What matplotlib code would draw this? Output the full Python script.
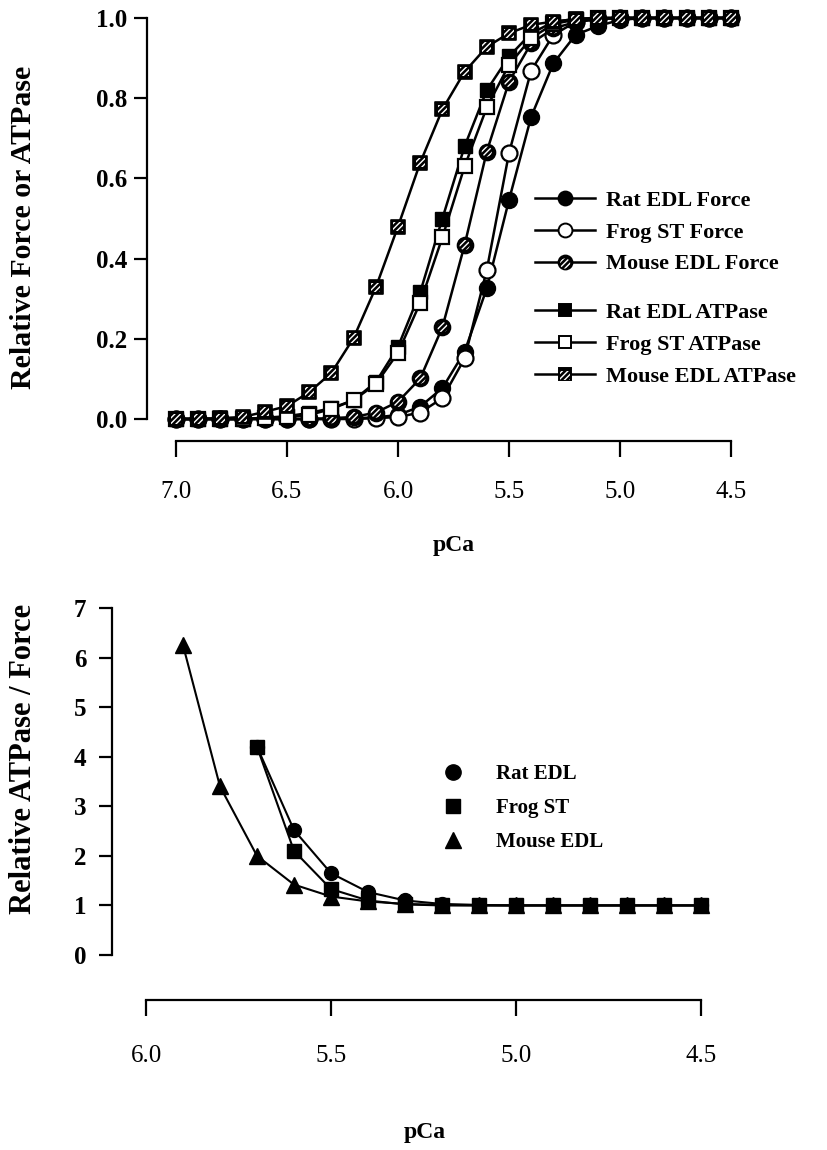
import matplotlib
matplotlib.use("Agg")
import matplotlib.pyplot as plt
from matplotlib.lines import Line2D
from matplotlib.legend_handler import HandlerTuple

plt.rcParams['font.family'] = ['Liberation Serif', 'DejaVu Serif']
plt.rcParams['hatch.linewidth'] = 1.0

# ---------------- data ----------------
pca_top = [7.0, 6.9, 6.8, 6.7, 6.6, 6.5, 6.4, 6.3, 6.2, 6.1, 6.0, 5.9, 5.8,
           5.7, 5.6, 5.5, 5.4, 5.3, 5.2, 5.1, 5.0, 4.9, 4.8, 4.7, 4.6, 4.5]
rat_force = [0, 0, 0, 0, 0, 0, 0, 0, 0.002, 0.004, 0.01, 0.031, 0.077,
             0.168, 0.326, 0.546, 0.754, 0.887, 0.958, 0.98, 0.995, 1, 1, 1, 1, 1]
frog_force = [0, 0, 0, 0, 0, 0, 0, 0, 0, 0.002, 0.005, 0.016, 0.052,
              0.151, 0.372, 0.663, 0.869, 0.958, 0.99, 0.998, 1, 1, 1, 1, 1, 1]
mouse_force = [0, 0, 0, 0, 0, 0, 0, 0.002, 0.005, 0.016, 0.043, 0.101, 0.229,
               0.434, 0.667, 0.841, 0.937, 0.974, 0.99, 0.997, 1, 1, 1, 1, 1, 1]
rat_atpase = [0, 0, 0, 0, 0.003, 0.007, 0.015, 0.027, 0.047, 0.092, 0.18, 0.316, 0.50,
              0.68, 0.82, 0.904, 0.962, 0.99, 0.998, 1, 1, 1, 1, 1, 1, 1]
frog_atpase = [0, 0, 0, 0, 0.002, 0.005, 0.01, 0.025, 0.047, 0.087, 0.165, 0.29, 0.453,
               0.63, 0.777, 0.883, 0.95, 0.985, 0.996, 1, 1, 1, 1, 1, 1, 1]
mouse_atpase = [0, 0, 0.002, 0.005, 0.018, 0.032, 0.067, 0.115, 0.202, 0.328, 0.48, 0.639, 0.772,
                0.866, 0.928, 0.962, 0.983, 0.991, 0.997, 1, 1, 1, 1, 1, 1, 1]

pca_mouse_ratio = [5.9, 5.8, 5.7, 5.6, 5.5, 5.4, 5.3, 5.2, 5.1, 5.0, 4.9, 4.8, 4.7, 4.6, 4.5]
mouse_ratio = [6.25, 3.4, 2.0, 1.42, 1.18, 1.08, 1.03, 1.01, 1, 1, 1, 1, 1, 1, 1]
pca_ratio = [5.7, 5.6, 5.5, 5.4, 5.3, 5.2, 5.1, 5.0, 4.9, 4.8, 4.7, 4.6, 4.5]
rat_ratio = [4.2, 2.52, 1.65, 1.27, 1.1, 1.03, 1.01, 1, 1, 1, 1, 1, 1]
frog_ratio = [4.2, 2.1, 1.33, 1.1, 1.02, 1.0, 1, 1, 1, 1, 1, 1, 1]

top_xticks = [7.0, 6.5, 6.0, 5.5, 5.0, 4.5]
top_yticks = [0.0, 0.2, 0.4, 0.6, 0.8, 1.0]
bot_xticks = [6.0, 5.5, 5.0, 4.5]
bot_yticks = [0, 1, 2, 3, 4, 5, 6, 7]

# ---------------- figure ----------------
fig = plt.figure(figsize=(8.28, 11.5), dpi=100)
W, H = 828.0, 1150.0
PT = 0.72  # points per pixel at 100 dpi

ax1 = fig.add_axes([176 / W, 1 - 419 / H, 555 / W, 401 / H])
ax2 = fig.add_axes([146 / W, 1 - 955 / H, 555 / W, 347 / H])

LW = 1.8
MS = 11.5


def style_axes(ax, left_out, bottom_out, xb, yb, xpad, ypad):
    for s in ['top', 'right']:
        ax.spines[s].set_visible(False)
    ax.spines['left'].set_position(('outward', left_out * PT))
    ax.spines['bottom'].set_position(('outward', bottom_out * PT))
    ax.spines['left'].set_linewidth(1.6)
    ax.spines['bottom'].set_linewidth(1.6)
    ax.spines['bottom'].set_bounds(*xb)
    ax.spines['left'].set_bounds(*yb)
    ax.tick_params(axis='both', direction='out', width=1.6)
    ax.tick_params(axis='x', length=16 * PT, pad=xpad)
    ax.tick_params(axis='y', length=13 * PT, pad=ypad)
    ax.patch.set_visible(False)


def hatched(ax, x, y, marker, size, z):
    a = ax.scatter(x, y, s=size ** 2, marker=marker, facecolor='black',
                   edgecolor='black', linewidth=1.2, zorder=z, clip_on=False)
    b = ax.scatter(x, y, s=(size * 0.64) ** 2, marker=marker, facecolor='none',
                   edgecolor='white', hatch='//////', linewidth=0, zorder=z + 0.01,
                   clip_on=False)
    return a, b


# ----- top panel -----
ax1.plot(pca_top, rat_force, '-', color='black', lw=LW, zorder=2, clip_on=False)
ax1.plot(pca_top, rat_force, 'o', color='black', ms=MS, mfc='black',
         mec='black', zorder=2.5, clip_on=False)

ax1.plot(pca_top, frog_force, '-', color='black', lw=LW, zorder=3, clip_on=False)
ax1.plot(pca_top, frog_force, 'o', color='black', ms=MS, mfc='white',
         mec='black', mew=1.6, zorder=3.5, clip_on=False)

ax1.plot(pca_top, mouse_force, '-', color='black', lw=LW, zorder=4, clip_on=False)
mf_a, mf_b = hatched(ax1, pca_top, mouse_force, 'o', MS, 4.5)

ax1.plot(pca_top, rat_atpase, '-', color='black', lw=LW, zorder=5, clip_on=False)
ax1.plot(pca_top, rat_atpase, 's', color='black', ms=MS - 1, mfc='black',
         mec='black', zorder=5.5, clip_on=False)

ax1.plot(pca_top, frog_atpase, '-', color='black', lw=LW, zorder=6, clip_on=False)
ax1.plot(pca_top, frog_atpase, 's', color='black', ms=MS - 1, mfc='white',
         mec='black', mew=1.6, zorder=6.5, clip_on=False)

ax1.plot(pca_top, mouse_atpase, '-', color='black', lw=LW, zorder=7, clip_on=False)
ma_a, ma_b = hatched(ax1, pca_top, mouse_atpase, 's', MS - 1, 7.5)

ax1.set_xlim(7.0, 4.5)
ax1.set_ylim(0, 1)
style_axes(ax1, 29, 22, (7.0, 4.5), (0, 1), xpad=17, ypad=5)
ax1.set_xticks(top_xticks)
ax1.set_xticklabels([f'{v:.1f}' for v in top_xticks], fontsize=18)
ax1.set_yticks(top_yticks)
ax1.set_yticklabels([f'{v:.1f}' for v in top_yticks], fontsize=18, fontweight='bold')
ax1.set_xlabel('pCa', fontsize=17, fontweight='bold')
ax1.xaxis.set_label_coords(0.5, -0.29)
ax1.set_ylabel('Relative Force or ATPase', fontsize=21.5, fontweight='bold')
ax1.yaxis.set_label_coords(-0.25, 0.479)


def lh(marker, mfc, ms):
    return Line2D([], [], color='black', lw=LW, marker=marker, ms=ms, mfc=mfc,
                  mec='black', mew=1.4)


handles_a = [lh('o', 'black', 10), lh('o', 'white', 10), (lh('o', 'black', 10), mf_b)]
handles_b = [lh('s', 'black', 9), lh('s', 'white', 9), (lh('s', 'black', 9), ma_b)]
labels_a = ['Rat EDL Force', 'Frog ST Force', 'Mouse EDL Force']
labels_b = ['Rat EDL ATPase', 'Frog ST ATPase', 'Mouse EDL ATPase']

leg_kw = dict(loc='upper left', frameon=False, prop={'size': 16, 'weight': 'bold'},
              handlelength=2.7, handletextpad=0.5, labelspacing=0.5,
              borderpad=0, borderaxespad=0,
              handler_map={tuple: HandlerTuple(ndivide=1)})
leg1 = ax1.legend(handles_a, labels_a, bbox_to_anchor=(0.647, 0.57), **leg_kw)
ax1.add_artist(leg1)
ax1.legend(handles_b, labels_b, bbox_to_anchor=(0.647, 0.29), **leg_kw)

# ----- bottom panel -----
BMS = 10
ax2.plot(pca_mouse_ratio, mouse_ratio, '-^', color='black', lw=1.5, ms=BMS + 1,
         zorder=3, clip_on=False)
ax2.plot(pca_ratio, frog_ratio, '-s', color='black', lw=1.5, ms=BMS - 0.5,
         zorder=4, clip_on=False)
ax2.plot(pca_ratio, rat_ratio, '-o', color='black', lw=1.5, ms=BMS,
         zorder=5, clip_on=False)

ax2.set_xlim(6.0, 4.5)
ax2.set_ylim(0, 7)
style_axes(ax2, 34, 45, (6.0, 4.5), (0, 7), xpad=21, ypad=9)
ax2.set_xticks(bot_xticks)
ax2.set_xticklabels([f'{v:.1f}' for v in bot_xticks], fontsize=18)
ax2.set_yticks(bot_yticks)
ax2.set_yticklabels([str(v) for v in bot_yticks], fontsize=18, fontweight='bold')
ax2.set_xlabel('pCa', fontsize=17, fontweight='bold')
ax2.xaxis.set_label_coords(0.503, -0.48)
ax2.set_ylabel('Relative ATPase / Force', fontsize=22, fontweight='bold')
ax2.yaxis.set_label_coords(-0.194, 0.565)

handles2 = [Line2D([], [], ls='none', marker='o', color='black', ms=BMS + 1),
            Line2D([], [], ls='none', marker='s', color='black', ms=BMS),
            Line2D([], [], ls='none', marker='^', color='black', ms=BMS + 1)]
ax2.legend(handles2, ['Rat EDL', 'Frog ST', 'Mouse EDL'], loc='upper left',
           bbox_to_anchor=(0.53, 0.55), frameon=False,
           prop={'size': 15, 'weight': 'bold'}, handlelength=1.2,
           handletextpad=1.5, labelspacing=0.68, borderpad=0, borderaxespad=0)

fig.savefig('out.png', dpi=100)
